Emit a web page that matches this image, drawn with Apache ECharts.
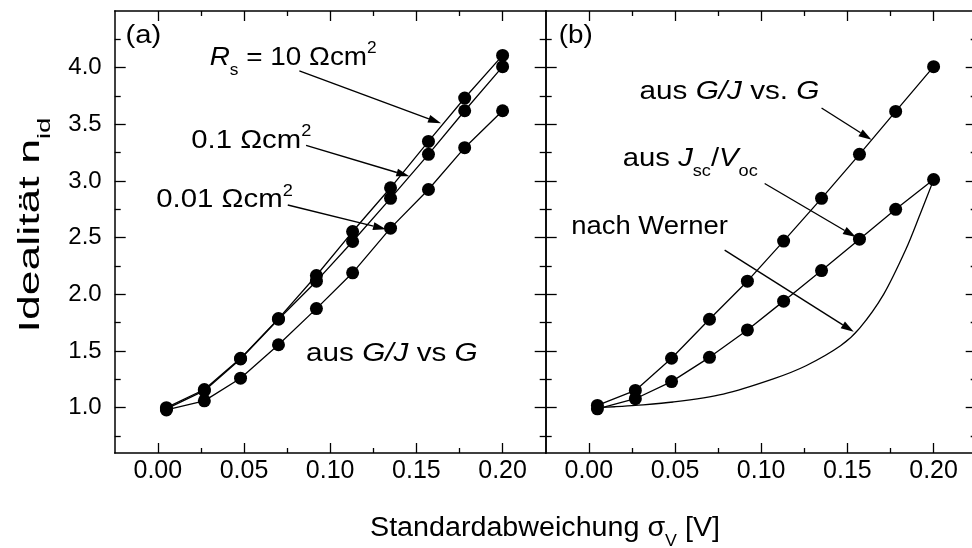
<!DOCTYPE html>
<html><head><meta charset="utf-8">
<script src="https://cdn.jsdelivr.net/npm/echarts@6/dist/echarts.min.js"></script>
<style>html,body{margin:0;padding:0;background:#fff}#c{width:972px;height:548px}</style>
</head><body><div id="c"></div>
<script>
// ---------- data ----------
const sigmaA = [0.005, 0.027, 0.048, 0.070, 0.092, 0.113, 0.135, 0.157, 0.178, 0.200];
const rs10   = [1.00, 1.16, 1.435, 1.786, 2.166, 2.554, 2.94, 3.349, 3.732, 4.108];
const rs01   = [0.99, 1.15, 1.43, 1.78, 2.116, 2.466, 2.847, 3.235, 3.62, 4.009];
const rs001  = [0.98, 1.06, 1.26, 1.555, 1.874, 2.19, 2.584, 2.925, 3.294, 3.62];

const sigmaB = [0.005, 0.027, 0.048, 0.070, 0.092, 0.113, 0.135, 0.157, 0.178, 0.200];
const gjB    = [1.02, 1.152, 1.436, 1.78, 2.116, 2.47, 2.847, 3.235, 3.614, 4.009];
const jscVoc = [0.99, 1.079, 1.23, 1.444, 1.686, 1.94, 2.21, 2.487, 2.75, 3.013];

const wernerX = [0.005, 0.015, 0.027, 0.049, 0.078, 0.107, 0.126, 0.146, 0.157, 0.171, 0.184, 0.192, 0.200];
const wernerY = [1.00, 1.008, 1.02, 1.05, 1.12, 1.254, 1.37, 1.546, 1.70, 2.00, 2.40, 2.70, 3.01];

const xTicks = [0, 0.05, 0.10, 0.15, 0.20];
const xMinor = [0.025, 0.075, 0.125, 0.175];
const yTicks = [1.0, 1.5, 2.0, 2.5, 3.0, 3.5, 4.0];
const yMinor = [0.75, 1.25, 1.75, 2.25, 2.75, 3.25, 3.75, 4.25];

const X_MIN = -0.025, X_MAX = 0.225, Y_MIN = 0.6, Y_MAX = 4.5;
const FONT = '"Liberation Sans", Arial, sans-serif';

// ---------- axes ----------
const lineS = {color:'#000', width:1.5};
const tickS = {color:'#000', width:1.3};
function xAxesFor(g){
  const base = {type:'value', gridIndex:g, min:X_MIN, max:X_MAX, splitLine:{show:false},
    axisLine:{show:true, onZero:false, lineStyle:lineS}};
  const hidden = {show:false, onZero:false};
  const noLab = {show:false};
  return [
    Object.assign({}, base, {position:'bottom',
      axisTick:{show:true, inside:true, length:10, customValues:xTicks, lineStyle:tickS},
      axisLabel:{show:true, customValues:xTicks, formatter:v=>v.toFixed(2), color:'#000', fontSize:25, fontFamily:FONT, margin:6}}),
    Object.assign({}, base, {position:'bottom', axisLine:hidden,
      axisTick:{show:true, inside:true, length:5, customValues:xMinor, lineStyle:tickS}, axisLabel:noLab}),
    Object.assign({}, base, {position:'top',
      axisTick:{show:true, inside:true, length:10, customValues:xTicks, lineStyle:tickS}, axisLabel:noLab}),
    Object.assign({}, base, {position:'top', axisLine:hidden,
      axisTick:{show:true, inside:true, length:5, customValues:xMinor, lineStyle:tickS}, axisLabel:noLab})
  ];
}
function yAxesFor(g, labels){
  const base = {type:'value', gridIndex:g, min:Y_MIN, max:Y_MAX, splitLine:{show:false},
    axisLine:{show:true, onZero:false, lineStyle:lineS}};
  const hidden = {show:false, onZero:false};
  const noLab = {show:false};
  return [
    Object.assign({}, base, {position:'left',
      axisTick:{show:true, inside:true, length:11, customValues:yTicks, lineStyle:tickS},
      axisLabel: labels ? {show:true, customValues:yTicks, formatter:v=>v.toFixed(1), color:'#000', fontSize:24, fontFamily:FONT, margin:13} : noLab}),
    Object.assign({}, base, {position:'left', axisLine:hidden,
      axisTick:{show:true, inside:true, length:6, customValues:yMinor, lineStyle:tickS}, axisLabel:noLab}),
    Object.assign({}, base, {position:'right',
      axisTick:{show:true, inside:true, length:11, customValues:yTicks, lineStyle:tickS}, axisLabel:noLab}),
    Object.assign({}, base, {position:'right', axisLine:hidden,
      axisTick:{show:true, inside:true, length:6, customValues:yMinor, lineStyle:tickS}, axisLabel:noLab})
  ];
}

function ser(g, xs, ys, marker){
  return {type:'line', xAxisIndex:g*4, yAxisIndex:g*4,
    data: xs.map((x,i)=>[x, ys[i]]),
    symbol: marker ? 'circle' : 'none', symbolSize: 13, showSymbol: marker,
    smooth: marker ? false : 0.3,
    itemStyle:{color:'#000'}, lineStyle:{color:'#000', width:1.3},
    emphasis:{disabled:true}, animation:false, z: marker ? 3 : 2};
}

const chart = echarts.init(document.getElementById('c'), null, {renderer:'canvas'});
chart.setOption({
  animation:false,
  backgroundColor:'#fff',
  grid:[
    {left:114.7, top:11, width:431, height:442, outerBoundsMode:'none', containLabel:false},
    {left:545.7, top:11, width:431, height:442, outerBoundsMode:'none', containLabel:false}
  ],
  xAxis: xAxesFor(0).concat(xAxesFor(1)),
  yAxis: yAxesFor(0, true).concat(yAxesFor(1, false)),
  series:[
    ser(0, sigmaA, rs10, true),
    ser(0, sigmaA, rs01, true),
    ser(0, sigmaA, rs001, true),
    ser(1, sigmaB, gjB, true),
    ser(1, sigmaB, jscVoc, true),
    ser(1, wernerX, wernerY, false)
  ]
});

// ---------- annotations ----------
const mctx = document.createElement('canvas').getContext('2d');
function measure(t, size, italic){
  mctx.font = (italic ? 'italic ' : '') + size + 'px "Liberation Sans"';
  return mctx.measureText(t).width;
}
function buildParts(parts, size){
  let x = 0; const ch = [];
  parts.forEach(p => {
    const t = p[0], k = p[1] || 'n';
    const small = (k === 'sub' || k === 'sup');
    const s = small ? size * 0.62 : size;
    const it = (k === 'i');
    const off = k === 'sub' ? size * 0.36 : (k === 'sup' ? -size * 0.46 : 0);
    ch.push({type:'text', x:x, y: off - s * 0.31, silent:true,
      style:{text:t, fontSize:s, fontFamily:FONT, fontStyle: it ? 'italic' : 'normal',
        fill:'#000', verticalAlign:'middle', align:'left'}});
    x += measure(t, s, it);
  });
  return {ch, width:x};
}
function textGroup(parts, px, py, size, targetW, opts){
  opts = opts || {};
  const b = buildParts(parts, size);
  if (opts.center) b.ch.forEach(c => c.x -= b.width / 2);
  return {type:'group', x:px, y:py, rotation: opts.rotation || 0,
    scaleX: targetW ? targetW / b.width : 1, children:b.ch, silent:true};
}
function arrow(p0, p1){
  const dx = p1[0]-p0[0], dy = p1[1]-p0[1], L = Math.hypot(dx, dy);
  const ux = dx/L, uy = dy/L, hl = 13, hw = 4;
  const bx = p1[0]-ux*hl, by = p1[1]-uy*hl;
  return [
    {type:'line', silent:true, shape:{x1:p0[0], y1:p0[1], x2:bx, y2:by}, style:{stroke:'#000', lineWidth:1.4}},
    {type:'polygon', silent:true, shape:{points:[[p1[0],p1[1]],[bx-uy*hw, by+ux*hw],[bx+uy*hw, by-ux*hw]]}, style:{fill:'#000'}}
  ];
}

// annotation anchors in data coordinates [sigma, n]
const labelsA = [
  {at:[0.0301, 4.015], w:167, parts:[['R','i'],['s','sub'],[' = 10 Ωcm'],['2','sup']]},
  {at:[0.0194, 3.285], w:120, parts:[['0.1 Ωcm'],['2','sup']]},
  {at:[-0.0009, 2.759], w:136.6, parts:[['0.01 Ωcm'],['2','sup']]},
  {at:[0.086, 1.406], w:171.6, parts:[['aus '],['G/J','i'],[' vs '],['G','i']]},
  {at:[-0.0187, 4.21], w:35.7, parts:[['(a)']]}
];
const arrowsA = [
  [[0.0821, 3.971], [0.1643, 3.509]],
  [[0.0860, 3.314], [0.1459, 3.042]],
  [[0.0754, 2.788], [0.1324, 2.575]]
];
const labelsB = [
  {at:[-0.0174, 4.21], w:34, parts:[['(b)']]},
  {at:[0.0294, 3.717], w:180, parts:[['aus '],['G/J','i'],[' vs. '],['G','i']]},
  {at:[0.0197, 3.124], w:135, parts:[['aus '],['J','i'],['sc','sub'],['/'],['V','i'],['oc','sub']]},
  {at:[-0.0102, 2.525], w:156.6, parts:[['nach Werner']]}
];
const arrowsB = [
  [[0.135, 3.644], [0.164, 3.364]],
  [[0.102, 2.978], [0.1549, 2.505]],
  [[0.0788, 2.39], [0.1537, 1.669]]
];

function draw(){
  const els = [];
  const toPx = (g, p) => chart.convertToPixel({xAxisIndex:g*4, yAxisIndex:g*4}, p);
  [[0, labelsA, arrowsA], [1, labelsB, arrowsB]].forEach(([g, labs, arrs]) => {
    labs.forEach(l => { const p = toPx(g, l.at); els.push(textGroup(l.parts, p[0], p[1], 26, l.w)); });
    arrs.forEach(a => { els.push(...arrow(toPx(g, a[0]), toPx(g, a[1]))); });
  });
  // axis titles
  els.push(textGroup([['Standardabweichung '],['σ'],['V','sub'],[' [V]']], 545, 537, 27, 350, {center:true}));
  els.push(textGroup([['Idealität n'],['id','sub']], 40, 225, 30, 215, {center:true, rotation:Math.PI/2}));
  chart.setOption({graphic:{elements:els}});
}
draw();
</script>
</body></html>
